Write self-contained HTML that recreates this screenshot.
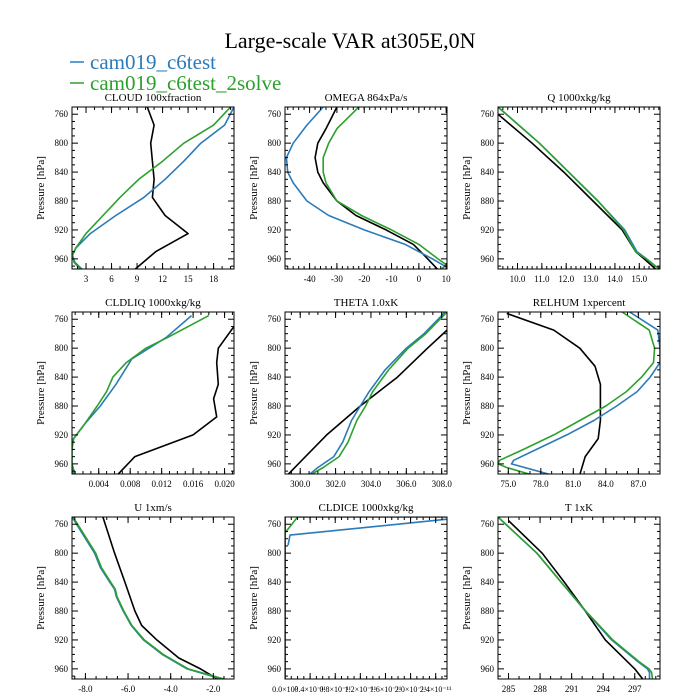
<!DOCTYPE html>
<html><head><meta charset="utf-8"><style>
body{margin:0;background:#fff;width:700px;height:700px;overflow:hidden}
svg{display:block;font-family:"Liberation Serif",serif}
</style></head><body>
<svg id="chart" width="700" height="700" viewBox="0 0 700 700">
<text x="350" y="48" text-anchor="middle" font-size="22">Large-scale VAR at305E,0N</text>
<g>
<g><line x1="70" y1="62" x2="84" y2="62" stroke="#2b7bba" stroke-width="1.5"/><text x="90" y="69" font-size="21" fill="#2b7bba">cam019_c6test</text></g>
<g><line x1="70" y1="83" x2="84" y2="83" stroke="#2ca02c" stroke-width="1.5"/><text x="90" y="90" font-size="21" fill="#2ca02c">cam019_c6test_2solve</text></g>
</g>
</svg>
<script>
// ---- data (pressure hPa, values) ----
const cloudBlackP=[750,775,800,825,850,875,900,925,950,975];
const cloudBlackX=[10.2,11,10.6,10.8,11,10.8,12.3,15,11.2,8.7];
const cloudBlueP=[750,775,800,825,850,875,900,925,945,955,965,975];
const cloudBlueX=[20.4,19.3,16.5,14.5,12.3,9.8,6.5,3.5,1.8,1.4,1.7,2.6];
const cloudGreenP=[750,775,800,825,850,875,900,925,945,955,965,975];
const cloudGreenX=[20.0,18,14.5,12,9.2,7,5,3,1.8,1.4,1.6,2.4];
const cloudTicks=[3,6,9,12,15,18];

const omegaBlackP=[750,780,800,820,840,855,880,900,920,940,955,975];
const omegaBlackX=[-30,-34,-37,-38,-37,-35,-30,-23,-12,-2,2,7];
const omegaBlueP=[750,775,800,820,840,855,880,900,920,940,960,970,975];
const omegaBlueX=[-35,-41,-46,-48.5,-48,-46,-41,-33,-20,-5,5,9.5,8];
const omegaGreenP=[750,780,800,820,840,855,880,900,920,940,960,968,975];
const omegaGreenX=[-22,-30,-33,-35,-35,-34,-30,-21,-10,0,7,10,8];
const omegaTicks=[-40,-30,-20,-10,0,10];

const qBlackP=[760,800,840,880,920,950,960,975];
const qBlackX=[9.2,10.6,11.9,13.1,14.3,14.85,15.2,15.7];
const qBlueP=[750,800,840,880,920,950,960,975];
const qBlueX=[9.2,10.9,12.1,13.3,14.4,14.9,15.3,15.85];
const qGreenP=[750,800,840,880,920,950,960,975];
const qGreenX=[9.2,10.9,12.1,13.3,14.35,14.85,15.28,15.85];
const qTicks=[10,11,12,13,14,15];

const liqBlackP=[770,800,820,850,870,895,920,950,975];
const liqBlackX=[0.0212,0.0192,0.0190,0.0192,0.0186,0.0190,0.0160,0.0086,0.0064];
const liqBlueP=[755,785,815,850,880,905,925,940,960,975];
const liqBlueX=[0.0158,0.0126,0.0082,0.0062,0.0042,0.0022,0.0008,0.0004,0.0004,0.0008];
const liqGreenP=[755,785,800,820,840,860,880,905,925,940,960,975];
const liqGreenX=[0.0180,0.0128,0.0100,0.0075,0.0058,0.0050,0.0038,0.0022,0.0008,0.0006,0.0006,0.0010];
const liqTicks=[0.004,0.008,0.012,0.016,0.020];

const thetaBlackP=[775,800,840,880,920,950,975];
const thetaBlackX=[308.3,307.2,305.5,303.4,301.5,300.3,299.3];
const thetaBlueP=[750,780,800,830,860,880,900,930,950,965,975];
const thetaBlueX=[308.2,307.0,306.0,304.8,303.9,303.4,302.9,302.4,301.9,301.0,300.5];
const thetaGreenP=[750,780,800,830,860,880,900,930,950,965,975];
const thetaGreenX=[308.3,307.1,306.1,305.0,304.1,303.7,303.2,302.7,302.2,301.3,300.6];
const thetaTicks=[300,302,304,306,308];

const rhBlackP=[752,775,800,825,850,900,925,950,975];
const rhBlackX=[74.85,79.2,81.6,83.0,83.5,83.5,83.3,82.1,81.6];
const rhBlueP=[750,775,800,820,840,860,880,900,920,940,955,960,975];
const rhBlueX=[86.2,88.8,89.0,89.0,88.1,86.9,85.0,82.9,80.4,77.6,75.5,75.3,78.9];
const rhGreenP=[750,775,800,820,840,860,880,900,920,940,955,960,965,975];
const rhGreenX=[85.5,88.0,88.5,88.4,87.3,85.9,84.0,81.6,79.2,76.4,74.2,74.05,74.85,77.1];
const rhTicks=[75,78,81,84,87];

const uBlackP=[750,800,840,880,900,920,945,960,975];
const uBlackX=[-7.18,-6.63,-6.15,-5.68,-5.36,-4.65,-3.62,-2.6,-1.75];
const uBlueP=[750,775,800,820,840,850,860,880,900,920,940,960,975];
const uBlueX=[-8.63,-8.1,-7.57,-7.3,-6.86,-6.63,-6.55,-6.23,-5.85,-5.28,-4.4,-3.23,-1.5];
const uGreenP=[750,775,800,820,840,850,860,880,900,920,940,960,975];
const uGreenX=[-8.58,-8.05,-7.52,-7.25,-6.82,-6.6,-6.52,-6.2,-5.82,-5.24,-4.35,-3.18,-1.4];
const uTicks=[-8,-6,-4,-2];

const iceBlackP=[750,975];
const iceBlackX=[0,0];
const iceBlueP=[753,775,789];
const iceBlueX=[2.58,0.08,0.05];
const iceGreenP=[750,750,772];
const iceGreenX=[2.58,0.2,0];
const iceTicks=[0,0.4,0.8,1.2,1.6,2.0,2.4];
const iceTickLabels=["0.0\u00d710\u2070","0.4\u00d710\u207b\u00b9\u00b9","0.8\u00d710\u207b\u00b9\u00b9","1.2\u00d710\u207b\u00b9\u00b9","1.6\u00d710\u207b\u00b9\u00b9","2.0\u00d710\u207b\u00b9\u00b9","2.4\u00d710\u207b\u00b9\u00b9"];

const tBlackP=[755,800,840,880,920,960,975];
const tBlackX=[285,288.2,290.3,292.3,294.2,297.0,297.8];
const tBlueP=[750,800,840,880,920,950,960,965,975];
const tBlueX=[284.0,287.7,290.0,292.3,294.8,297.3,298.2,298.4,298.4];
const tGreenP=[750,800,840,880,920,950,960,965,975];
const tGreenX=[284.0,287.7,290.0,292.35,294.9,297.4,298.35,298.6,298.7];
const tTicks=[285,288,291,294,297];

const pTicks=[760,800,840,880,920,960];

const panels=[
 {id:'cloud',title:'CLOUD  100xfraction',col:0,row:0,xmin:1.35,xmax:20.4,ticks:cloudTicks,minor:1,fmt:v=>String(v),s:[[cloudBlackP,cloudBlackX],[cloudBlueP,cloudBlueX],[cloudGreenP,cloudGreenX]]},
 {id:'omega',title:'OMEGA  864xPa/s',col:1,row:0,xmin:-49,xmax:10.3,ticks:omegaTicks,minor:2,fmt:v=>String(v),s:[[omegaBlackP,omegaBlackX],[omegaBlueP,omegaBlueX],[omegaGreenP,omegaGreenX]]},
 {id:'q',title:'Q  1000xkg/kg',col:2,row:0,xmin:9.2,xmax:15.85,ticks:qTicks,minor:0.2,fmt:v=>v.toFixed(1),s:[[qBlackP,qBlackX],[qBlueP,qBlueX],[qGreenP,qGreenX]]},
 {id:'cldliq',title:'CLDLIQ  1000xkg/kg',col:0,row:1,xmin:0.0006,xmax:0.0212,ticks:liqTicks,minor:0.001,fmt:v=>v.toFixed(3),s:[[liqBlackP,liqBlackX],[liqBlueP,liqBlueX],[liqGreenP,liqGreenX]]},
 {id:'theta',title:'THETA  1.0xK',col:1,row:1,xmin:299.14,xmax:308.3,ticks:thetaTicks,minor:0.5,fmt:v=>v.toFixed(1),s:[[thetaBlackP,thetaBlackX],[thetaBlueP,thetaBlueX],[thetaGreenP,thetaGreenX]]},
 {id:'relhum',title:'RELHUM  1xpercent',col:2,row:1,xmin:74.05,xmax:89.0,ticks:rhTicks,minor:1,fmt:v=>v.toFixed(1),s:[[rhBlackP,rhBlackX],[rhBlueP,rhBlueX],[rhGreenP,rhGreenX]]},
 {id:'u',title:'U  1xm/s',col:0,row:2,xmin:-8.63,xmax:-1.03,ticks:uTicks,minor:0.5,fmt:v=>v.toFixed(1),s:[[uBlackP,uBlackX],[uBlueP,uBlueX],[uGreenP,uGreenX]]},
 {id:'cldice',title:'CLDICE  1000xkg/kg',col:1,row:2,xmin:0,xmax:2.58,ticks:iceTicks,labels:iceTickLabels,minor:0.1,fmt:v=>String(v),s:[[iceBlackP,iceBlackX],[iceBlueP,iceBlueX],[iceGreenP,iceGreenX]]},
 {id:'t',title:'T  1xK',col:2,row:2,xmin:284.0,xmax:299.4,ticks:tTicks,minor:1,fmt:v=>String(v),s:[[tBlackP,tBlackX],[tBlueP,tBlueX],[tGreenP,tGreenX]]}
];
const colors=['#000','#2b7bba','#2ca02c'];
const seriesNames=['control','c6test','c6test-2solve'];
const NS='http://www.w3.org/2000/svg';
const svg=document.getElementById('chart');
const X0=[72,285,498],Y0=[107,312,517],W=162,H=162,PMIN=750,PMAX=974;
function mk(tag,attrs,parent){const e=document.createElementNS(NS,tag);for(const k in attrs)e.setAttribute(k,attrs[k]);parent.appendChild(e);return e;}
panels.forEach(p=>{
 const x0=X0[p.col],y0=Y0[p.row];
 const g=mk('g',{},svg);
 
 
 const xs=v=>x0+(v-p.xmin)/(p.xmax-p.xmin)*W;
 const ys=v=>y0+(v-PMIN)/(PMAX-PMIN)*H;
 const t=mk('text',{x:x0+W/2,y:y0-6,'text-anchor':'middle','font-size':'11','xml:space':'preserve'},g);t.textContent=p.title;
 
 
 const yl=mk('text',{x:0,y:0,'text-anchor':'middle','font-size':'11',transform:`translate(${x0-28},${y0+H/2}) rotate(-90)`},g);yl.textContent='Pressure [hPa]';
 
 
 const clip='clip-'+p.id;
 const cp=mk('clipPath',{id:clip},g);mk('rect',{x:x0,y:y0,width:W,height:H},cp);
 p.s.forEach((s,i)=>{
  const d=s[0].map((pv,j)=>(j?'L':'M')+xs(s[1][j]).toFixed(1)+','+ys(pv).toFixed(1)).join('');
  const path=mk('path',{d:d,fill:'none',stroke:colors[i],'stroke-width':'1.6','clip-path':`url(#${clip})`,'stroke-linejoin':'round'},g);
  
  
 });
 const fr=mk('rect',{x:x0,y:y0,width:W,height:H,fill:'none',stroke:'#000','stroke-width':'1'},g);
 
 
 for(let v=760;v<=970;v+=10){const y=ys(v);const L=(v%40===0)?6:3;
  mk('line',{x1:x0,y1:y,x2:x0+L,y2:y,stroke:'#000'},g);mk('line',{x1:x0+W,y1:y,x2:x0+W-L,y2:y,stroke:'#000'},g);}
 pTicks.forEach(v=>{const tx=mk('text',{x:x0-4,y:ys(v)+3,'text-anchor':'end','font-size':'9'},g);tx.textContent=v;
  
  });
 const m=p.minor;
 for(let k=Math.ceil(p.xmin/m);k*m<=p.xmax+1e-9;k++){const x=xs(k*m);
  mk('line',{x1:x,y1:y0+H,x2:x,y2:y0+H-3,stroke:'#000'},g);mk('line',{x1:x,y1:y0,x2:x,y2:y0+3,stroke:'#000'},g);}
 p.ticks.forEach((v,i)=>{const x=xs(v);
  mk('line',{x1:x,y1:y0+H,x2:x,y2:y0+H-6,stroke:'#000'},g);mk('line',{x1:x,y1:y0,x2:x,y2:y0+6,stroke:'#000'},g);
  const tx=mk('text',{x:x,y:y0+H+13,'text-anchor':'middle','font-size':p.labels?'8':'9'},g);
  tx.textContent=p.labels?p.labels[i]:p.fmt(v);
  
  });
});
</script>
</body></html>
